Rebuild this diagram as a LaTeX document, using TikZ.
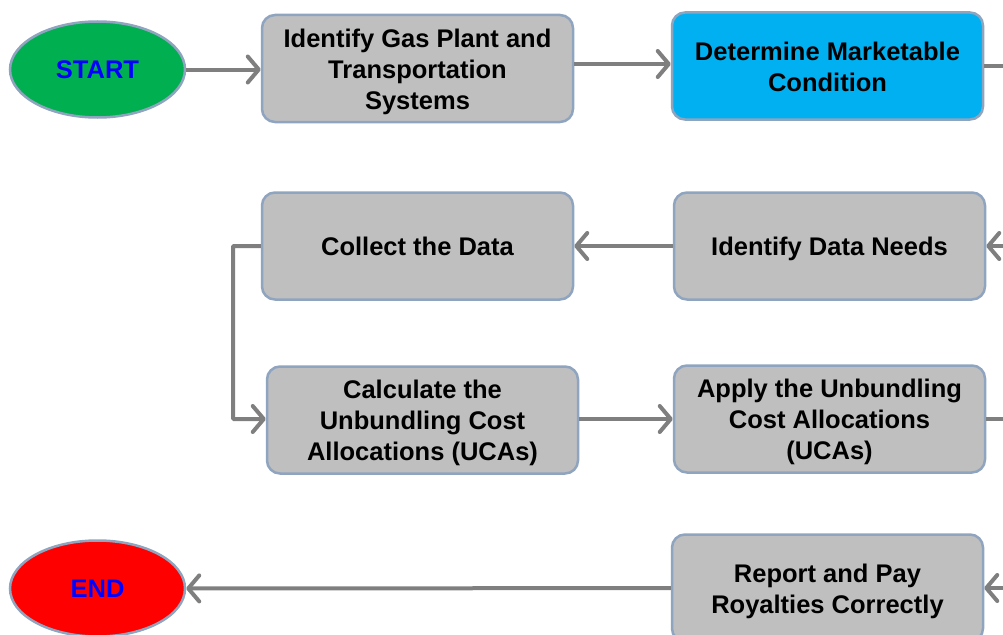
\documentclass[tikz,border=0pt]{standalone}
\usepackage{fontspec}
\setmainfont{Liberation Sans}
\usetikzlibrary{arrows.meta,shapes.geometric}
\definecolor{boxfill}{HTML}{BFBFBF}
\definecolor{boxline}{HTML}{8FA4BF}
\definecolor{condblue}{HTML}{00B0F0}
\definecolor{startgreen}{HTML}{00B050}
\definecolor{endred}{HTML}{FF0000}
\definecolor{flowgray}{HTML}{7F7F7F}
\definecolor{termtext}{HTML}{0000FF}
\tikzset{
  stepfont/.style={font=\fontsize{25.5pt}{31pt}\selectfont\bfseries},
  stepbox/.style={draw=boxline, line width=2.5pt, fill=boxfill, rounded corners=13pt,
    minimum width=311pt, minimum height=107pt, inner sep=0pt,
    label={[stepfont, align=center, yshift=-3pt, inner sep=0pt]center:#1}},
  terminal/.style={ellipse, draw=boxline, line width=2.5pt, minimum width=175pt,
    minimum height=96pt, inner sep=0pt, text=termtext, stepfont},
  flow/.style={draw=flowgray, line width=4pt,
    -{Straight Barb[length=11pt,width=26pt,line cap=round,line join=round]}},
  link/.style={draw=flowgray, line width=4pt}
}
\begin{document}
\begin{tikzpicture}[x=1pt,y=-1pt]
  \useasboundingbox (0,0) rectangle (1003,634);
  \clip (0,0) rectangle (1003,634);

  % terminals
  \node[terminal, fill=startgreen] (start) at (97.5,69.5) {START};
  \node[terminal, fill=endred] (finish) at (97.5,588.5) {END};

  % process steps
  \node[stepbox={Identify Gas Plant and\\Transportation\\Systems}] (plant) at (417.5,68.5) {};
  \node[stepbox={Determine Marketable\\Condition\vphantom{y}}, fill=condblue] (cond) at (827.5,66) {};
  \node[stepbox={Identify Data Needs}] (needs) at (829.5,246) {};
  \node[stepbox={Collect the Data\vphantom{y}}] (collect) at (417.5,246) {};
  \node[stepbox={Calculate the\\Unbundling Cost\\Allocations (UCAs)}] (calc) at (422.5,420) {};
  \node[stepbox={Apply the Unbundling\\Cost Allocations\\(UCAs)}] (apply) at (829.5,419) {};
  \node[stepbox={Report and Pay\\Royalties Correctly}] (report) at (827.5,588) {};

  % links continuing beyond the right edge
  \coordinate (outA) at (1012,66);
  \coordinate (inA) at (1012,246);
  \coordinate (outB) at (1012,419);
  \coordinate (inB) at (1012,588);
  \coordinate (bend1) at (233,246);
  \coordinate (bend2) at (233,419);

  % connectors
  \draw[flow] (start) -- (plant.west |- start);
  \draw[flow] (plant.east |- 0,64) -- (cond.west |- 0,64);
  \draw[link] (cond.east) -- (outA);
  \draw[flow] (inA) -- (needs.east);
  \draw[flow] (needs) -- (collect);
  \draw[flow, rounded corners=1pt] (collect.west) -- (bend1) -- (bend2) -- (calc.west |- bend2);
  \draw[flow] (calc.east |- apply.west) -- (apply.west);
  \draw[link] (apply.east) -- (outB);
  \draw[flow] (inB) -- (report.east);
  \draw[flow] (report) -- (finish);
\end{tikzpicture}
\end{document}
